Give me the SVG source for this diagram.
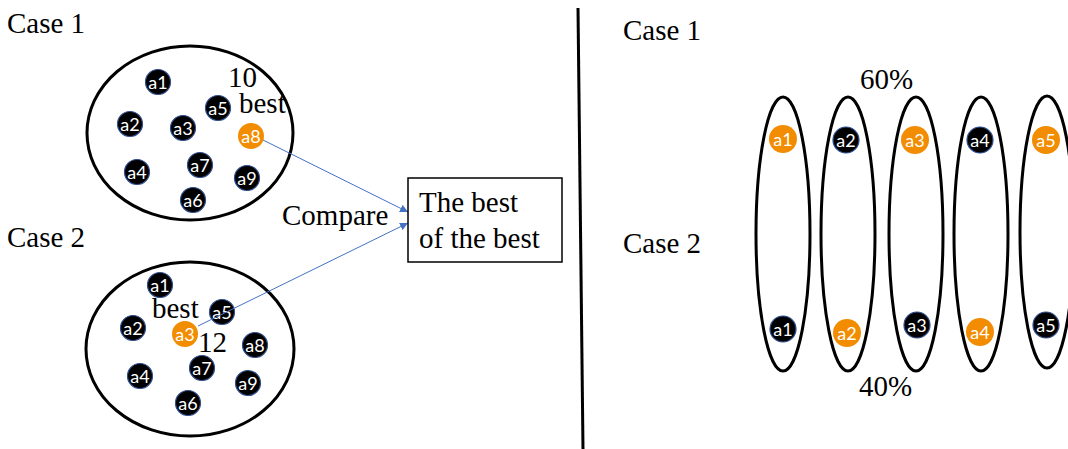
<svg xmlns="http://www.w3.org/2000/svg" width="1068" height="449" viewBox="0 0 1068 449">
<style>
.t{font-family:"Liberation Serif","Times New Roman",serif;font-size:29px;fill:#000}
.big{fill:none;stroke:#000;stroke-width:3}
.nb{fill:#000;stroke:#2F4F8F;stroke-width:1.2}
.no{fill:#F28C00;stroke:none}
.nl{font-family:Lato,"Noto Sans",sans-serif;font-size:18px;fill:#fff;text-anchor:middle;dominant-baseline:central}
.conn{fill:none;stroke:#4472C4;stroke-width:1}
</style>
<defs>
<marker id="arr" viewBox="0 0 10 10" refX="10" refY="5" markerWidth="8" markerHeight="8" markerUnits="userSpaceOnUse" orient="auto">
<path d="M0,0 L10,5 L0,10 z" fill="#4472C4"/>
</marker>
</defs>
<rect width="1068" height="449" fill="#fff"/>

<g id="labels">
<text class="t" x="7" y="33">Case 1</text>
<text class="t" x="7" y="247">Case 2</text>
<text class="t" x="623" y="40">Case 1</text>
<text class="t" x="623" y="253">Case 2</text>
</g>

<line id="divider" x1="578" y1="8" x2="583" y2="449" stroke="#000" stroke-width="3"/>

<g id="case1-group">
<ellipse class="big" cx="190" cy="133" rx="103" ry="87"/>
<text class="t" x="228" y="87">10</text>
<text class="t" x="239" y="113">best</text>
<g id="c1-a1"><circle cx="158" cy="82" r="12.5" class="nb"/><text class="nl" x="158" y="82">a1</text></g>
<g id="c1-a5"><circle cx="218" cy="108" r="12.5" class="nb"/><text class="nl" x="218" y="108">a5</text></g>
<g id="c1-a2"><circle cx="130" cy="124" r="12.5" class="nb"/><text class="nl" x="130" y="124">a2</text></g>
<g id="c1-a3"><circle cx="183" cy="128" r="12.5" class="nb"/><text class="nl" x="183" y="128">a3</text></g>
<g id="c1-a8"><circle cx="251" cy="136" r="13" class="no"/><text class="nl" x="251" y="136">a8</text></g>
<g id="c1-a4"><circle cx="137" cy="172" r="12.5" class="nb"/><text class="nl" x="137" y="172">a4</text></g>
<g id="c1-a7"><circle cx="200" cy="165" r="12.5" class="nb"/><text class="nl" x="200" y="165">a7</text></g>
<g id="c1-a9"><circle cx="247" cy="178" r="12.5" class="nb"/><text class="nl" x="247" y="178">a9</text></g>
<g id="c1-a6"><circle cx="193" cy="200" r="12.5" class="nb"/><text class="nl" x="193" y="200">a6</text></g>
</g>

<g id="case2-group">
<ellipse class="big" cx="190" cy="349" rx="104" ry="87"/>
<g id="c2-a1"><circle cx="160" cy="285" r="12.5" class="nb"/><text class="nl" x="160" y="285">a1</text></g>
<text class="t" x="152" y="318">best</text>
<g id="c2-a5"><circle cx="222" cy="312" r="12.5" class="nb"/><text class="nl" x="222" y="312">a5</text></g>
<g id="c2-a2"><circle cx="133" cy="328" r="12.5" class="nb"/><text class="nl" x="133" y="328">a2</text></g>
<g id="c2-a8"><circle cx="255" cy="345" r="12.5" class="nb"/><text class="nl" x="255" y="345">a8</text></g>
<g id="c2-a4"><circle cx="140" cy="376" r="12.5" class="nb"/><text class="nl" x="140" y="376">a4</text></g>
<g id="c2-a7"><circle cx="202" cy="368" r="12.5" class="nb"/><text class="nl" x="202" y="368">a7</text></g>
<g id="c2-a9"><circle cx="248" cy="383" r="12.5" class="nb"/><text class="nl" x="248" y="383">a9</text></g>
<g id="c2-a6"><circle cx="188" cy="403" r="12.5" class="nb"/><text class="nl" x="188" y="403">a6</text></g>
<text class="t" x="198" y="352">12</text>
<g id="c2-a3"><circle cx="185" cy="334" r="13" class="no"/><text class="nl" x="185" y="334">a3</text></g>
</g>

<g id="connectors">
<line class="conn" x1="263" y1="140" x2="408" y2="212" marker-end="url(#arr)"/>
<line class="conn" x1="198" y1="326" x2="408" y2="223" marker-end="url(#arr)"/>
</g>
<text class="t" x="282" y="225">Compare</text>

<g id="best-box">
<rect x="408" y="178" width="154" height="84" fill="#fff" stroke="#000" stroke-width="1.5"/>
<text class="t" x="419" y="212">The best</text>
<text class="t" x="419" y="248">of the best</text>
</g>

<g id="right-ellipses">
<text class="t" x="860" y="89">60%</text>
<text class="t" x="859" y="396">40%</text>
<g id="e1"><ellipse class="big" cx="783" cy="234" rx="27" ry="137"/>
<circle cx="783" cy="139" r="14" class="no"/><text class="nl" x="783" y="139">a1</text>
<circle cx="783" cy="329" r="13" class="nb"/><text class="nl" x="783" y="329">a1</text></g>
<g id="e2"><ellipse class="big" cx="848" cy="234" rx="27" ry="137"/>
<circle cx="846" cy="140" r="13" class="nb"/><text class="nl" x="846" y="140">a2</text>
<circle cx="847" cy="333" r="14" class="no"/><text class="nl" x="847" y="333">a2</text></g>
<g id="e3"><ellipse class="big" cx="916" cy="234" rx="27" ry="137"/>
<circle cx="915" cy="140" r="14" class="no"/><text class="nl" x="915" y="140">a3</text>
<circle cx="917" cy="325" r="13" class="nb"/><text class="nl" x="917" y="325">a3</text></g>
<g id="e4"><ellipse class="big" cx="981" cy="234" rx="27" ry="137"/>
<circle cx="980" cy="140" r="13" class="nb"/><text class="nl" x="980" y="140">a4</text>
<circle cx="980" cy="332" r="14" class="no"/><text class="nl" x="980" y="332">a4</text></g>
<g id="e5"><ellipse class="big" cx="1047" cy="232" rx="27" ry="136"/>
<circle cx="1046" cy="140" r="14" class="no"/><text class="nl" x="1046" y="140">a5</text>
<circle cx="1046" cy="325" r="13" class="nb"/><text class="nl" x="1046" y="325">a5</text></g>
</g>
</svg>
